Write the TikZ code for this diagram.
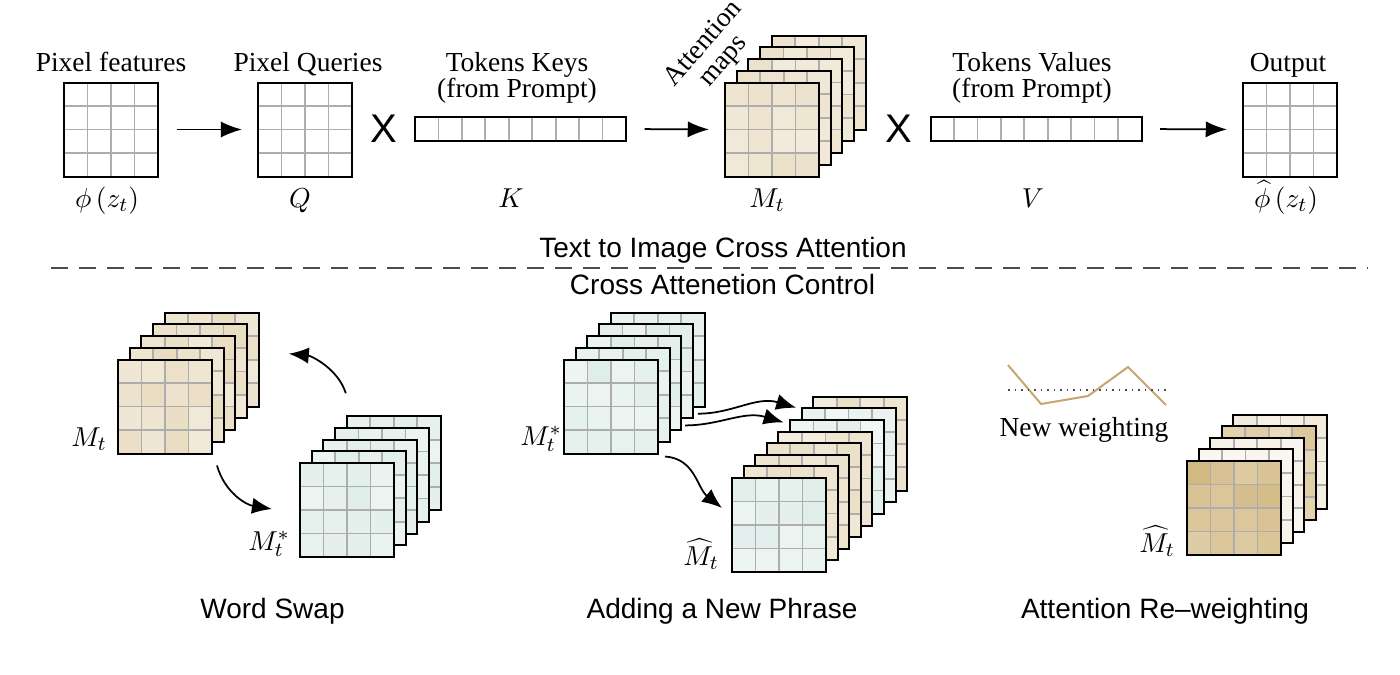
\documentclass[tikz,border=0pt]{standalone}
\usepackage{fontspec}
\setmainfont{Liberation Serif}
\setsansfont{Liberation Sans}
\usetikzlibrary{arrows.meta,calc}

\definecolor{tanc}{RGB}{214,190,140}
\definecolor{greenc}{RGB}{170,208,196}
\definecolor{plotc}{RGB}{200,165,112}

% grid lines and shaded cells of a 4x4 map (used inside path picture)
\newcommand\maplines{%
  \foreach \cx in {1,2,3} {
    \draw[cellline] ($(path picture bounding box.north west)+(\cx*9.4pt,0pt)$) -- ++(0pt,-37.6pt);
    \draw[cellline] ($(path picture bounding box.north west)+(0pt,-\cx*9.4pt)$) -- ++(37.6pt,0pt);
  }}
\newcommand\mapcells[2]{%
  \foreach \cx in {0,...,3} \foreach \cy in {0,...,3} {
    \pgfmathtruncatemacro\cellt{#2*(0.75+0.5*rnd)}
    \fill[#1!\cellt!white] ($(path picture bounding box.north west)+(\cx*9.4pt,-\cy*9.4pt)$) rectangle ++(9.4pt,-9.4pt);
  }}

\tikzset{
  cellline/.style={draw=black!32, line width=0.7pt},
  pixgrid/.style={draw, line width=0.8pt, minimum size=37.6pt, inner sep=0pt, path picture={\maplines}},
  map/.style 2 args={pixgrid, path picture={\mapcells{#1}{#2}\maplines}},
  tokbar/.style={draw, line width=0.8pt, minimum width=84.4pt, minimum height=9.6pt, inner sep=0pt,
    path picture={\foreach \cx in {1,...,8}
      \draw[cellline] ($(path picture bounding box.south west)!\cx/9!(path picture bounding box.south east)$) -- ++(0pt,9.6pt);}},
  flow/.style={-{Latex[length=8.5pt,width=6.5pt]}, line width=0.7pt, shorten <=7pt, shorten >=6pt},
  curvearr/.style={-{Latex[length=8pt,width=6.5pt]}, line width=0.7pt},
  toplbl/.style={font=\fontsize{11}{10.4}\selectfont, align=center, inner sep=0pt, text depth=0pt, anchor=south},
  mathlbl/.style={font=\fontsize{11}{13}\selectfont, inner sep=0pt, anchor=base},
  seclbl/.style={font=\sffamily\fontsize{11.2}{13}\selectfont, inner sep=0pt, anchor=base},
  mult/.style={font=\sffamily\fontsize{16}{16}\selectfont, inner sep=0pt},
}

\begin{document}
\begin{tikzpicture}[x=0.4pt, y=-0.4pt]
  \pgfmathsetseed{11}
  \useasboundingbox (0,0) rectangle (1400,674);

  % text to image cross attention
  \node[pixgrid] (feat) at (111,129.5) {};
  \node[pixgrid] (qry) at (305,129.5) {};
  \node[mult] (mul1) at (383.5,129) {X};
  \node[tokbar] (keys) at (520.5,129) {};
  \foreach \k in {4,3,2,1,0}
    \node[map={tanc}{40}] (attn\k) at (772+11.7*\k, 129.5-11.7*\k) {};
  \node[mult] (mul2) at (898.5,129) {X};
  \node[tokbar] (vals) at (1036,129) {};
  \node[pixgrid] (out) at (1290,129.5) {};

  \draw[flow] (feat.east) -- (qry.west);
  \draw[flow] (keys.east) -- (attn0.west);
  \draw[flow] (vals.east) -- (out.west);

  \node[toplbl] (featlbl) at (111,72) {Pixel features};
  \node[toplbl] (qrylbl) at (308,72) {Pixel Queries};
  \node[toplbl] (keyslbl) at (517,98) {Tokens Keys\\(from Prompt)};
  \node[font=\fontsize{11}{10.6}\selectfont, align=center, inner sep=0pt, rotate=49] (attnlbl) at (714,53) {Attention\\maps};
  \node[toplbl] (valslbl) at (1032,98) {Tokens Values\\(from Prompt)};
  \node[toplbl] (outlbl) at (1288,72) {Output};

  \node[mathlbl] (phi) at (107,207) {$\phi\left(z_t\right)$};
  \node[mathlbl] (q) at (300,207) {$Q$};
  \node[mathlbl] (k) at (511,207) {$K$};
  \node[mathlbl] (mt) at (767,207) {$M_t$};
  \node[mathlbl] (v) at (1033,207) {$V$};
  \node[mathlbl] (phihat) at (1286,207) {$\widehat{\phi}\left(z_t\right)$};

  \node[seclbl] (sec1) at (723,257) {Text to Image Cross Attention};
  \draw[black!70, line width=0.7pt, dash pattern=on 6.8pt off 4.4pt] (51,268) -- (1368,268);
  \node[seclbl] (sec2) at (722.5,294) {Cross Attenetion Control};

  % word swap
  \foreach \k in {4,3,2,1,0}
    \node[map={tanc}{45}] (wsa\k) at (165+11.7*\k, 406.5-11.7*\k) {};
  \foreach \k in {4,3,2,1,0}
    \node[map={greenc}{30}] (wsb\k) at (347+11.7*\k, 510-11.7*\k) {};
  \draw[curvearr] ([shift={(4,11)}]wsa0.south east) .. controls +(8,28) and +(-25,-4) .. ([shift={(-27,-1)}]wsb0.west);
  \draw[curvearr] ([shift={(0,-22)}]wsb4.north west) .. controls +(-8,-25) and +(22,2) .. ([shift={(29,-6)}]wsa4.east);
  \node[mathlbl] (wsmt) at (89,446) {$M_t$};
  \node[mathlbl] (wsmts) at (269,550) {$M_t^*$};
  \node[seclbl] (ws) at (272.5,618) {Word Swap};

  % adding a new phrase
  \foreach \k in {4,3,2,1,0}
    \node[map={greenc}{30}] (ans\k) at (611+11.7*\k, 406.5-11.7*\k) {};
  \foreach \k/\col/\sh in {7/tanc/40, 6/greenc/25, 5/greenc/25, 4/tanc/35, 3/tanc/40, 2/tanc/40, 1/tanc/40, 0/greenc/30}
    \node[map={\col}{\sh}] (ant\k) at (779+11.6*\k, 525-11.6*\k) {};
  \draw[curvearr] ([shift={(-8,6)}]ans4.south east) .. controls +(35,0) and +(-40,-12) .. ([shift={(-16,12)}]ant7.north west);
  \draw[curvearr] ([shift={(-9,6)}]ans3.south east) .. controls +(35,0) and +(-40,-12) .. ([shift={(-17,15)}]ant6.north west);
  \draw[curvearr] ([shift={(6,2)}]ans0.south east) .. controls +(30,2) and +(-25,-20) .. ([shift={(-9,-17)}]ant0.west);
  \node[mathlbl] (anmts) at (541,445) {$M_t^*$};
  \node[mathlbl] (anmth) at (701,565) {$\widehat{M}_t$};
  \node[seclbl] (an) at (722,618) {Adding a New Phrase};

  % attention re-weighting
  \draw[plotc, line width=0.8pt] (1008,365) -- (1041,404) -- (1088,396) -- (1128,367) -- (1166,405);
  \draw[black!70, line width=0.6pt, dotted] (1008,390) -- (1167,390);
  \node[toplbl] (nw) at (1084,437) {New weighting};
  \foreach \k/\sh in {4/25, 3/75, 2/18, 1/15, 0/90}
    \node[map={tanc}{\sh}] (rw\k) at (1234+11.6*\k, 508-11.6*\k) {};
  \node[mathlbl] (rwmth) at (1157,552) {$\widehat{M}_t$};
  \node[seclbl] (rw) at (1165,618) {Attention Re--weighting};
\end{tikzpicture}
\end{document}
